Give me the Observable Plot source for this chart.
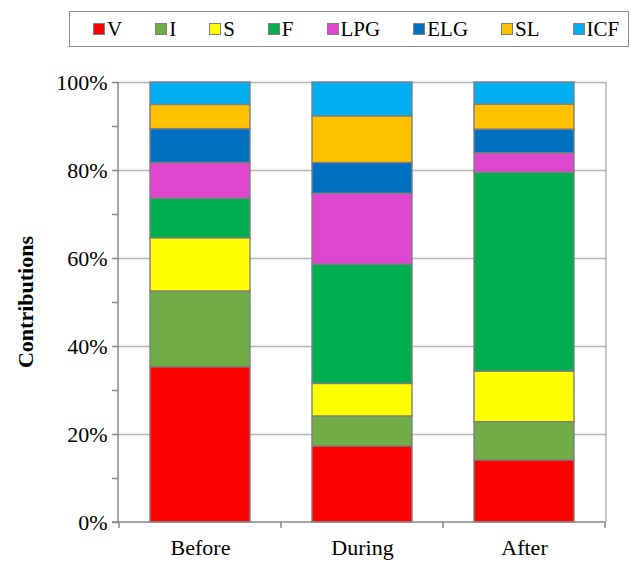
<!DOCTYPE html>
<html><head><meta charset="utf-8">
<script src="https://cdn.jsdelivr.net/npm/d3@7"></script>
<script src="https://cdn.jsdelivr.net/npm/@observablehq/plot@0.6"></script>
<style>
body{margin:0;background:#fff;font-family:"Liberation Serif",Tinos,"Times New Roman",Times,"DejaVu Serif",serif;}
#wrap{position:relative;width:630px;height:561px;overflow:hidden;background:#fff}
#legend{position:absolute;left:69px;top:11px;width:560px;height:36px;box-sizing:border-box;border:1.5px solid #8c8c8c;display:flex;align-items:center;justify-content:flex-start;padding-left:23px;gap:33px;font-size:21px;color:#000;background:#fff;font-family:"Liberation Serif",Tinos,"Times New Roman",Times,"DejaVu Serif",serif}
.item{display:flex;align-items:center;white-space:nowrap}
.sw{width:10px;height:10px;border:1px solid #7f7f7f;margin-right:2px;flex:none}
svg text{font-family:"Liberation Serif",Tinos,"Times New Roman",Times,"DejaVu Serif",serif !important}
</style></head>
<body><div id="wrap"><div id="legend"></div></div>
<script>
const periods = ["Before", "During", "After"];
const sources = ["V", "I", "S", "F", "LPG", "ELG", "SL", "ICF"];
const colors = ["#FF0000", "#70AD47", "#FFFF00", "#00B050", "#E047CF", "#0070C0", "#FFC000", "#00B0F0"];
const before = [35.3, 17.2, 12.1, 9.0, 8.1, 7.7, 5.5, 5.1];
const during = [17.3, 6.8, 7.4, 27.1, 16.1, 7.0, 10.6, 7.7];
const after = [14.1, 8.7, 11.5, 45.2, 4.4, 5.4, 5.7, 5.0];
const yTicks = [0, 20, 40, 60, 80, 100];
const yMinorTicks = [10, 30, 50, 70, 90];
const yTitle = "Contributions";

const FONT = '"Liberation Serif", Tinos, "Times New Roman", Times, "DejaVu Serif", serif';

const series = [before, during, after];
const table = [];
periods.forEach((p, i) => sources.forEach((s, j) => table.push({period: p, source: s, value: series[i][j]})));

// legend
const legend = document.getElementById("legend");
sources.forEach((s, j) => {
  const it = document.createElement("div"); it.className = "item";
  const sw = document.createElement("div"); sw.className = "sw"; sw.style.background = colors[j];
  const t = document.createElement("span"); t.textContent = s;
  it.appendChild(sw); it.appendChild(t); legend.appendChild(it);
});

const decor = (index, scales, values, dims) => {
  const g = d3.create("svg:g");
  const xs = scales.x, ys = scales.y;
  const left = dims.marginLeft, right = dims.width - dims.marginRight;
  const n = periods.length;
  const step = xs.step ? xs.step() : (right - left) / n;
  const bw = xs.bandwidth ? xs.bandwidth() : 0;
  const y0 = ys(0), yTop = ys(100);
  g.append("line").attr("x1", right).attr("x2", right).attr("y1", yTop).attr("y2", y0)
    .attr("stroke", "#b5b5b5").attr("stroke-width", 1.5);
  g.append("line").attr("x1", left - 6).attr("x2", right).attr("y1", y0).attr("y2", y0)
    .attr("stroke", "#888").attr("stroke-width", 1.5);
  g.append("line").attr("x1", left).attr("x2", left).attr("y1", yTop).attr("y2", y0)
    .attr("stroke", "#888").attr("stroke-width", 1.5);
  const bounds = periods.map(p => xs(p) + bw / 2 - step / 2);
  bounds.push(xs(periods[n - 1]) + bw / 2 + step / 2);
  bounds.forEach(b => g.append("line").attr("x1", b).attr("x2", b).attr("y1", y0).attr("y2", y0 + 6)
    .attr("stroke", "#888").attr("stroke-width", 1.5));
  g.append("text").attr("transform", `translate(25,${(y0 + yTop) / 2}) rotate(-90)`)
    .attr("text-anchor", "middle").attr("dy", "0.35em")
    .attr("font-family", FONT)
    .attr("font-weight", "bold").attr("font-size", 22).attr("fill", "#000").text(yTitle);
  return g.node();
};

const chart = Plot.plot({
  width: 630, height: 561,
  marginTop: 82, marginBottom: 39, marginLeft: 118, marginRight: 24,
  style: {fontFamily: FONT, fontSize: "22px", color: "#000", background: "#fff", overflow: "visible"},
  x: {domain: periods, paddingInner: 0.38, paddingOuter: 0.19, label: null},
  y: {domain: [0, 100], label: null},
  color: {domain: sources, range: colors},
  marks: [
    Plot.gridY(yTicks.slice(1), {stroke: "#b5b5b5", strokeOpacity: 1, strokeWidth: 1.3}),
    Plot.barY(table, {x: "period", y: "value", fill: "source", stroke: "#7f7f7f", strokeWidth: 1.4, order: null}),
    Plot.axisY(yTicks, {tickFormat: d => d + "%", tickSize: 6, tickPadding: 5, stroke: "#888", strokeWidth: 1.5, fontSize: 22, label: null}),
    Plot.axisY(yMinorTicks, {tickFormat: () => "", tickSize: 6, stroke: "#888", strokeWidth: 1.5, label: null}),
    Plot.axisX({tickSize: 0, tickPadding: 17, fontSize: 22, label: null}),
    decor
  ]
});
document.getElementById("wrap").insertBefore(chart, legend);
chart.style.position = "absolute"; chart.style.left = "0"; chart.style.top = "0";
</script>
</body></html>
